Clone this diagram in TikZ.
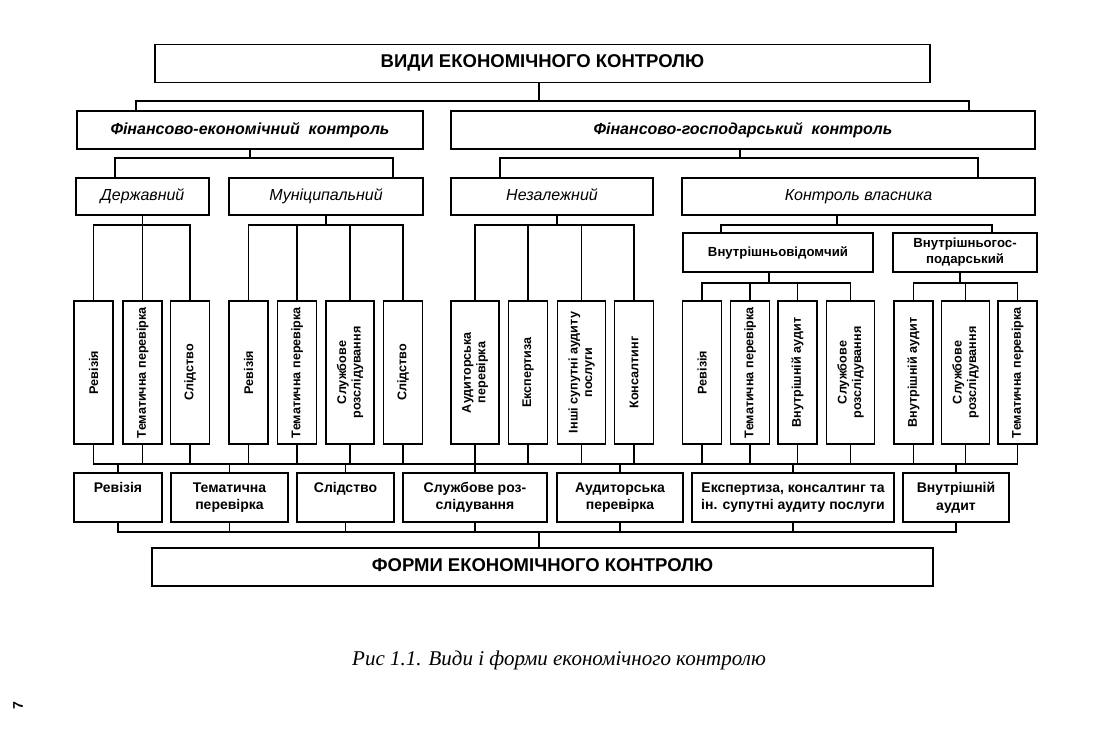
\documentclass[tikz,border=0pt]{standalone}
\usepackage{fontspec}
\setmainfont{Liberation Sans}
\newfontfamily\capfont{Liberation Serif}
\usetikzlibrary{positioning}

\tikzset{
  box/.style={draw, line width=1.2pt, inner sep=1pt, align=center},
  oneline/.style={text height=11pt, text depth=3pt},
  titlebox/.style={box, oneline, minimum height=38pt, font=\bfseries\fontsize{18.5}{21}\selectfont},
  kindbox/.style={box, oneline, minimum height=38pt, font=\bfseries\itshape\fontsize{16}{19}\selectfont},
  subbox/.style={box, oneline, minimum height=37pt, font=\itshape\fontsize{16}{19}\selectfont},
  ownbox/.style={box, minimum height=39pt, font=\bfseries\fontsize{13.2}{16}\selectfont},
  vbox/.style={box, rotate=90, minimum width=143pt, minimum height=39pt, font=\bfseries\fontsize{12.6}{14.5}\selectfont},
  wide/.style={minimum height=48pt},
  formbox/.style={box, minimum height=49pt, font=\bfseries\fontsize{14}{17.5}\selectfont},
  onerow/.style={text depth=20.5pt},
}

\begin{document}
\begin{tikzpicture}[x=1pt,y=-1pt]
  \useasboundingbox (0,0) rectangle (1094,729);

  % top and bottom
  \node[titlebox, minimum width=775pt] (vydy) at (542.5,63.5) {ВИДИ ЕКОНОМІЧНОГО КОНТРОЛЮ};
  \node[titlebox, minimum width=781pt] (forms) at (542.5,567) {ФОРМИ ЕКОНОМІЧНОГО КОНТРОЛЮ};

  % second level
  \node[kindbox, minimum width=346pt] (fek) at (250,130) {Фінансово-економічний\ \ контроль};
  \node[kindbox, minimum width=584pt] (fgo) at (743,130) {Фінансово-господарський\ \ контроль};

  % third level
  \node[subbox, minimum width=133pt] (derzh) at (142.5,196.5) {Державний};
  \node[subbox, minimum width=194pt] (munic) at (326,196.5) {Муніципальний};
  \node[subbox, minimum width=202pt] (nezal) at (552,196.5) {Незалежний};
  \node[subbox, minimum width=353pt] (vlasn) at (858.5,196.5) {Контроль власника};
  \node[ownbox, oneline, minimum width=190pt] (vvid) at (778,252.5) {Внутрішньовідомчий};
  \node[ownbox, minimum width=144pt] (vgos) at (965,252.5) {Внутрішньогос-\\подарський};

  % vertical boxes
  \node[vbox] (d1) at (93.5,372.5) {Ревізія};
  \node[vbox] (d2) at (142.5,372.5) {Тематична перевірка};
  \node[vbox] (d3) at (190,372.5) {Слідство};
  \node[vbox] (m1) at (248.5,372.5) {Ревізія};
  \node[vbox] (m2) at (297,372.5) {Тематична перевірка};
  \node[vbox, wide] (m3) at (350,372.5) {Службове\\розслідування};
  \node[vbox] (m4) at (403,372.5) {Слідство};
  \node[vbox, wide] (n1) at (475,372.5) {Аудиторська\\перевірка};
  \node[vbox] (n2) at (528,372.5) {Експертиза};
  \node[vbox, wide] (n3) at (581.5,372.5) {Інші супутні аудиту\\послуги};
  \node[vbox] (n4) at (634,372.5) {Консалтинг};
  \node[vbox] (v1) at (702,372.5) {Ревізія};
  \node[vbox] (v2) at (750,372.5) {Тематична перевірка};
  \node[vbox] (v3) at (797.5,372.5) {Внутрішній аудит};
  \node[vbox, wide] (v4) at (850.5,372.5) {Службове\\розслідування};
  \node[vbox] (g1) at (913.5,372.5) {Внутрішній аудит};
  \node[vbox, wide] (g2) at (965.5,372.5) {Службове\\розслідування};
  \node[vbox] (g3) at (1017.5,372.5) {Тематична перевірка};

  % forms row
  \node[formbox, onerow, minimum width=88pt] (f1) at (118,497.5) {Ревізія};
  \node[formbox, minimum width=117pt] (f2) at (229.5,497.5) {Тематична\\перевірка};
  \node[formbox, onerow, minimum width=97pt] (f3) at (345.5,497.5) {Слідство};
  \node[formbox, minimum width=144pt] (f4) at (475,497.5) {Службове роз-\\слідування};
  \node[formbox, minimum width=126pt] (f5) at (620,497.5) {Аудиторська\\перевірка};
  \node[formbox, minimum width=202pt] (f6) at (793,497.5) {Експертиза, консалтинг та\\ін. супутні аудиту послуги};
  \node[formbox, minimum width=106pt] (f7) at (956,497.5) {Внутрішній\\аудит};

  \node[font=\capfont\itshape\fontsize{21}{25}\selectfont] (caption) at (559,660) {Рис 1.1. Види і форми економічного контролю};
  \node[rotate=90, font=\bfseries\fontsize{14}{16}\selectfont] (page) at (18,706) {7};

  \begin{scope}[line width=1.2pt]
  % види -> фінансовий контроль
  \draw (vydy.south -| 539,0) -- (539,101);
  \draw (fek.north -| 136,0) -- (136,101) -- (969,101) -- (fgo.north -| 969,0);
  % фінансово-економічний
  \draw (fek.south) -- (250,158);
  \draw (derzh.north -| 115,0) -- (115,158) -- (393,158) -- (munic.north -| 393,0);
  % фінансово-господарський
  \draw (fgo.south -| 740,0) -- (740,158);
  \draw (nezal.north -| 500,0) -- (500,158) -- (978,158) -- (vlasn.north -| 978,0);
  % державний
  \draw (derzh.south) -- (derzh.south |- 0,225);
  \draw (d1.east) -- (d1.east |- 0,225) -- (d3.east |- 0,225) -- (d3.east);
  \draw (d2.east) -- (d2.east |- 0,225);
  % муніципальний
  \draw (munic.south) -- (munic.south |- 0,225);
  \draw (m1.east) -- (m1.east |- 0,225) -- (m4.east |- 0,225) -- (m4.east);
  \draw (m2.east) -- (m2.east |- 0,225);
  \draw (m3.east) -- (m3.east |- 0,225);
  % незалежний
  \draw (nezal.south -| 557,0) -- (557,225);
  \draw (n1.east) -- (n1.east |- 0,225) -- (n4.east |- 0,225) -- (n4.east);
  \draw (n2.east) -- (n2.east |- 0,225);
  \draw (n3.east) -- (n3.east |- 0,225);
  % контроль власника
  \draw (vlasn.south -| 837,0) -- (837,225);
  \draw (vvid.north -| 721,0) -- (721,225) -- (992,225) -- (vgos.north -| 992,0);
  % внутрішньовідомчий
  \draw (vvid.south -| 769,0) -- (769,283);
  \draw (v1.east) -- (v1.east |- 0,283) -- (v4.east |- 0,283) -- (v4.east);
  \draw (v2.east) -- (v2.east |- 0,283);
  \draw (v3.east) -- (v3.east |- 0,283);
  % внутрішньогосподарський
  \draw (vgos.south -| 960,0) -- (960,283);
  \draw (g1.east) -- (g1.east |- 0,283) -- (g3.east |- 0,283) -- (g3.east);
  \draw (g2.east) -- (g2.east |- 0,283);

  % види -> форми
  \draw (d1.west) -- (d1.west |- 0,464) -- (g3.west |- 0,464) -- (g3.west);
  \draw (d2.west) -- (d2.west |- 0,464);
  \draw (d3.west) -- (d3.west |- 0,464);
  \draw (m1.west) -- (m1.west |- 0,464);
  \draw (m2.west) -- (m2.west |- 0,464);
  \draw (m3.west) -- (m3.west |- 0,464);
  \draw (m4.west) -- (m4.west |- 0,464);
  \draw (n1.west) -- (n1.west |- 0,464);
  \draw (n2.west) -- (n2.west |- 0,464);
  \draw (n3.west) -- (n3.west |- 0,464);
  \draw (n4.west) -- (n4.west |- 0,464);
  \draw (v1.west) -- (v1.west |- 0,464);
  \draw (v2.west) -- (v2.west |- 0,464);
  \draw (v3.west) -- (v3.west |- 0,464);
  \draw (v4.west) -- (v4.west |- 0,464);
  \draw (g1.west) -- (g1.west |- 0,464);
  \draw (g2.west) -- (g2.west |- 0,464);
  \draw (f1.north) -- (f1.north |- 0,464);
  \draw (f2.north) -- (f2.north |- 0,464);
  \draw (f3.north) -- (f3.north |- 0,464);
  \draw (f4.north) -- (f4.north |- 0,464);
  \draw (f5.north) -- (f5.north |- 0,464);
  \draw (f6.north) -- (f6.north |- 0,464);
  \draw (f7.north) -- (f7.north |- 0,464);

  % форми -> підсумок
  \draw (f1.south) -- (f1.south |- 0,532) -- (f7.south |- 0,532) -- (f7.south);
  \draw (f2.south) -- (f2.south |- 0,532);
  \draw (f3.south) -- (f3.south |- 0,532);
  \draw (f4.south) -- (f4.south |- 0,532);
  \draw (f5.south) -- (f5.south |- 0,532);
  \draw (f6.south) -- (f6.south |- 0,532);
  \draw (forms.north -| 539,0) -- (539,532);
  \end{scope}
\end{tikzpicture}
\end{document}
